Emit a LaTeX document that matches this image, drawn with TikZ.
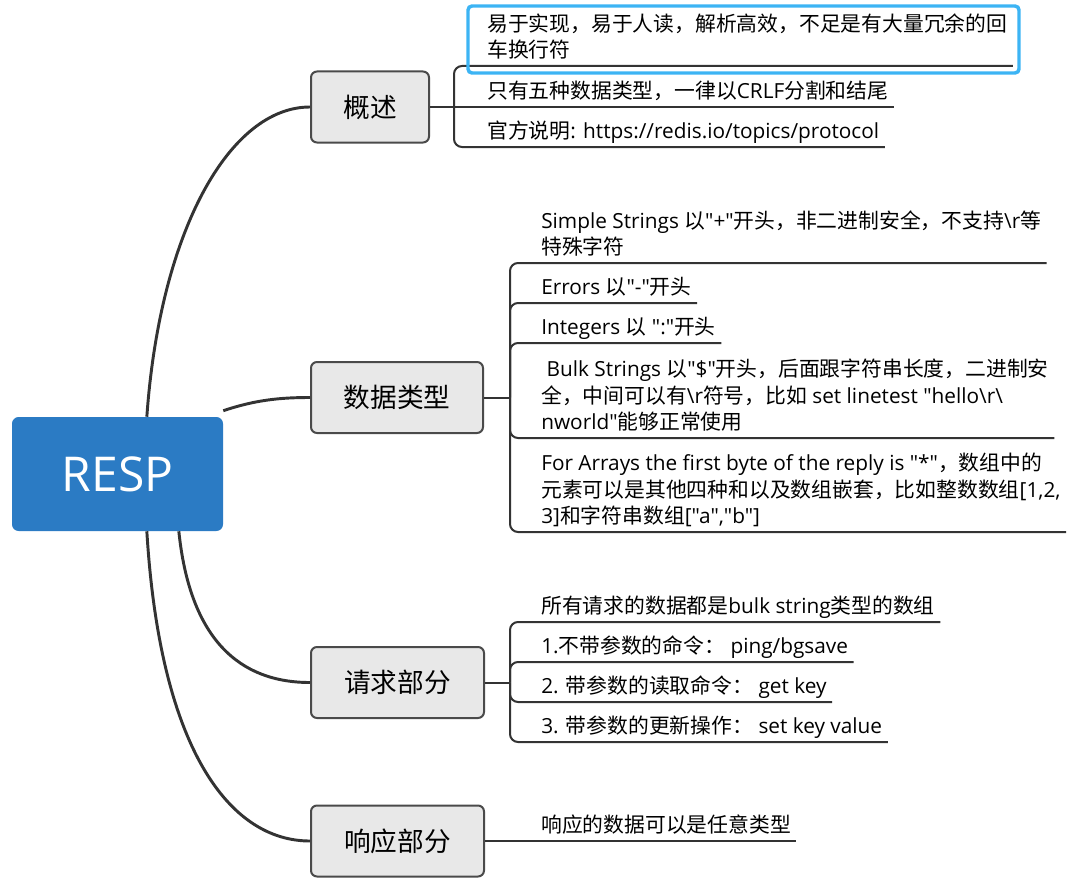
\documentclass[tikz,border=0pt]{standalone}
\usepackage{fontspec}
\setmainfont{Open Sans}[Ligatures=TeXOff]
\newfontfamily\cjk{Noto Sans CJK SC}
\usetikzlibrary{positioning}

\definecolor{linegray}{HTML}{333333}
\definecolor{boxfill}{HTML}{E8E8E8}
\definecolor{boxline}{HTML}{4A4A4A}
\definecolor{respblue}{HTML}{2B7BC4}
\definecolor{selblue}{HTML}{3CB4F4}

\newcommand{\zh}[1]{{\cjk #1}}
\newcommand{\fixdp}{\rule[-6pt]{0pt}{6pt}}

\tikzset{
  topic/.style={draw=boxline, fill=boxfill, line width=1.5pt, rounded corners=4.5pt,
    inner sep=0pt, minimum height=53.25pt, font=\cjk\fontsize{20}{24}\selectfont},
  leaf/.style={anchor=south west, inner sep=0pt, align=left,
    font=\fontsize{15.6}{20}\selectfont},
  branch/.style={draw=linegray, line width=2.2pt},
  twig/.style={draw=linegray, line width=1.5pt, rounded corners=6pt},
  selbox/.style={draw=selblue, line width=2.6pt, rounded corners=3pt},
}

\begin{document}
\begin{tikzpicture}[x=0.75pt,y=0.75pt,yscale=-1,xscale=1]
    \useasboundingbox (0,0) rectangle (1077,892);

    %Shape: Root
    \node [fill=respblue, rounded corners=5pt, inner sep=0pt, minimum width=158.25pt, minimum height=85.5pt,
      text=white, font=\fontsize{36}{40}\selectfont] (resp) at (117.5,474) {RESP};

    %Shape: Topics
    \node [topic, minimum width=88.5pt] (gaishu) at (370,107) {概述};
    \node [topic, minimum width=129pt] (shuju) at (397,397.5) {数据类型};
    \node [topic, minimum width=129.75pt] (qingqiu) at (397.5,682.5) {请求部分};
    \node [topic, minimum width=129.75pt] (xiangying) at (397.5,841) {响应部分};

    %Curve Lines: root to topics
    \draw [branch] ([xshift=22pt]resp.north) .. controls (160,230) and (230,107) .. (gaishu.west);
    \draw [branch] ([yshift=-4.5pt]resp.north east) .. controls (255,400) and (280,397.5) .. (shuju.west);
    \draw [branch] ([xshift=46pt]resp.south) .. controls (190,640) and (240,682.5) .. (qingqiu.west);
    \draw [branch] ([xshift=22pt]resp.south) .. controls (160,750) and (230,841) .. (xiangying.west);

    %Bracket points
    \coordinate [right=18pt of gaishu] (g0);
    \coordinate [right=19.5pt of shuju] (d0);
    \coordinate [right=18.75pt of qingqiu] (q0);

    % Text Node
    \node [leaf] (g1) at (487,66) {\zh{易于实现，易于人读，解析高效，不足是有大量冗余的回}\\\zh{车换行符}\fixdp};
    % Text Node
    \node [leaf] (g2) at (487,107) {\zh{只有五种数据类型，一律以}CRLF\zh{分割和结尾}\fixdp};
    % Text Node
    \node [leaf] (g3) at (487,147) {\zh{官方说明}: https://redis.io/topics/protocol\fixdp};

    % Text Node
    \node [leaf] (d1) at (541,263) {Simple Strings \zh{以}"+"\zh{开头，非二进制安全，不支持}\textbackslash r\zh{等}\\\zh{特殊字符}\fixdp};
    % Text Node
    \node [leaf] (d2) at (541,303) {Errors \zh{以}"-"\zh{开头}\fixdp};
    % Text Node
    \node [leaf] (d3) at (541,343) {Integers \zh{以} ":"\zh{开头}\fixdp};
    % Text Node
    \node [leaf] (d4) at (541,438) {\ Bulk Strings \zh{以}"\$"\zh{开头，后面跟字符串长度，二进制安}\\\zh{全，中间可以有}\textbackslash r\zh{符号，比如} set linetest "hello\textbackslash r\textbackslash\\nworld"\zh{能够正常使用}\fixdp};
    % Text Node
    \node [leaf] (d5) at (541,532) {For Arrays the first byte of the reply is "*"\zh{，数组中的}\\\zh{元素可以是其他四种和以及数组嵌套，比如整数数组}[1,2,\\3]\zh{和字符串数组}["a","b"]\fixdp};

    % Text Node
    \node [leaf] (q1) at (541,622) {\zh{所有请求的数据都是}bulk string\zh{类型的数组}\fixdp};
    % Text Node
    \node [leaf] (q2) at (541,662) {1.\zh{不带参数的命令：} ping/bgsave\fixdp};
    % Text Node
    \node [leaf] (q3) at (541,702) {2. \zh{带参数的读取命令：} get key\fixdp};
    % Text Node
    \node [leaf] (q4) at (541,742) {3. \zh{带参数的更新操作：} set key value\fixdp};

    % Text Node
    \node [leaf] (x1) at (541,841) {\zh{响应的数据可以是任意类型}\fixdp};

    %Lines: topic to leaves
    \draw [twig] (gaishu.east) -- (g0);
    \draw [twig] (g0) |- ([xshift=4pt]g1.south east);
    \draw [twig] (g0) -- ([xshift=4pt]g2.south east);
    \draw [twig] (g0) |- ([xshift=4pt]g3.south east);

    \draw [twig] (shuju.east) -- (d0);
    \foreach \k in {d1,d2,d3,d4,d5}
      \draw [twig] (d0) |- ([xshift=4pt]\k.south east);

    \draw [twig] (qingqiu.east) -- (q0);
    \foreach \k in {q1,q2,q3,q4}
      \draw [twig] (q0) |- ([xshift=4pt]\k.south east);

    \draw [twig] (xiangying.east) -- ([xshift=4pt]x1.south east);

    %Shape: selection frame
    \draw [selbox] (468,6) rectangle (1019,73);
\end{tikzpicture}
\end{document}
